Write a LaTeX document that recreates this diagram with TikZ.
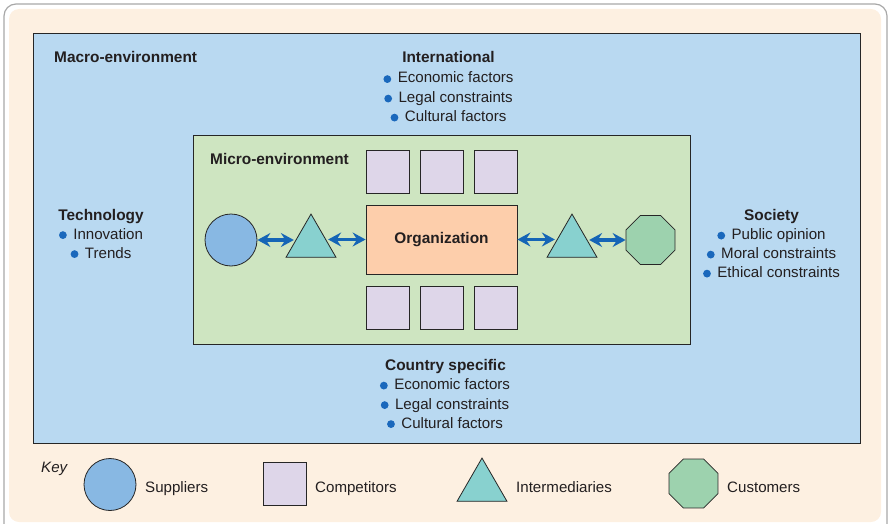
\documentclass[tikz,border=0pt]{standalone}
\usepackage{fontspec}
\setmainfont{Liberation Sans}
\usetikzlibrary{shapes.geometric,arrows.meta}
\definecolor{cream}{HTML}{FDF0E1}
\definecolor{macrobg}{HTML}{B9D9F1}
\definecolor{microbg}{HTML}{CEE5C1}
\definecolor{lavender}{HTML}{DED6E9}
\definecolor{peach}{HTML}{FDCEAB}
\definecolor{suppblue}{HTML}{88B8E3}
\definecolor{teal}{HTML}{88D1CF}
\definecolor{custgreen}{HTML}{9DD2AE}
\definecolor{arrowblue}{HTML}{1565B6}
\definecolor{bulletblue}{HTML}{1A68BC}
\definecolor{txt}{HTML}{231F20}
\definecolor{framegray}{HTML}{A8A8A8}
\newcommand\bul{\tikz[baseline=0pt]\fill[bulletblue] (0pt,3.9pt) circle (3.9pt);\hspace{6.5pt}}
\begin{document}
\begin{tikzpicture}[x=1pt,y=-1pt,
  font=\fontsize{15.1}{19.5}\selectfont, text=txt,
  box/.style={draw=black!85, line width=0.8pt, inner sep=0pt},
  sq/.style={box, fill=lavender, minimum width=43pt, minimum height=43pt},
  supp/.style={box, circle, fill=suppblue, minimum size=52pt},
  interm/.style={box, regular polygon, regular polygon sides=3, fill=teal, minimum size=57.7pt},
  cust/.style={box, regular polygon, regular polygon sides=8, fill=custgreen, minimum size=53pt},
  lbl/.style={anchor=base, inner sep=0pt},
  lblw/.style={anchor=base west, inner sep=0pt},
  bfont/.style={font=\fontsize{15.4}{19.5}\selectfont\bfseries},
  ttl/.style={lbl, bfont},
  arr/.style={{Stealth[length=13pt,width=14pt,inset=4.5pt]}-{Stealth[length=13pt,width=14pt,inset=4.5pt]}, line width=3.2pt, draw=arrowblue}]
\useasboundingbox (0,0) rectangle (888,524);
\begin{scope}
  \clip (0,0) rectangle (888,524);
  \draw[framegray, line width=1.2pt, rounded corners=12pt] (4,4) rectangle (887,545);
  \fill[cream, rounded corners=10pt] (9,9) rectangle (881,522);
\end{scope}
% environments
\node[box, fill=macrobg, minimum width=827pt, minimum height=410pt] (macro) at (446.5,238) {};
\node[box, fill=microbg, minimum width=497pt, minimum height=209pt] (micro) at (441.5,239.5) {};
\node[lblw, bfont] (macrot) at (54,63) {Macro-environment};
\node[lblw, bfont] (microt) at (210,164) {Micro-environment};
% organization and competitors
\node[box, fill=peach, minimum width=151pt, minimum height=69pt, bfont] (org) at (441.5,239.5) {Organization};
\node[sq] (c1) at (387.5,171.5) {};
\node[sq] (c2) at (441.5,171.5) {};
\node[sq] (c3) at (495.5,171.5) {};
\node[sq] (c4) at (387.5,308) {};
\node[sq] (c5) at (441.5,308) {};
\node[sq] (c6) at (495.5,308) {};
% chain
\node[supp] (sup) at (231,240) {};
\node[interm] (tl) at (311,242.9) {};
\node[interm] (tr) at (572,242.9) {};
\node[cust] (cus) at (650.5,240) {};
\draw[arr] (sup.east) -- (sup.east -| tl.west);
\draw[arr] (tl.east |- org.west) -- (org.west);
\draw[arr] (org.east) -- (org.east -| tr.west);
\draw[arr] (tr.east |- cus.west) -- (cus.west);
% International
\node[ttl] (intt) at (448.5,62.5) {International};
\node[lbl] (int1) at (448.5,83) {\bul Economic factors};
\node[lbl] (int2) at (448.5,102.5) {\bul Legal constraints};
\node[lbl] (int3) at (448.5,121.5) {\bul Cultural factors};
% Country specific
\node[ttl] (cst) at (445.5,370) {Country specific};
\node[lbl] (cs1) at (445,389.5) {\bul Economic factors};
\node[lbl] (cs2) at (445,409) {\bul Legal constraints};
\node[lbl] (cs3) at (445,428) {\bul Cultural factors};
% Technology
\node[ttl] (tect) at (101,220) {Technology};
\node[lbl] (tec1) at (101,239) {\bul Innovation};
\node[lbl] (tec2) at (101,258) {\bul Trends};
% Society
\node[ttl] (soct) at (771.5,220.5) {Society};
\node[lbl] (soc1) at (771.5,239.5) {\bul Public opinion};
\node[lbl] (soc2) at (771.5,258.5) {\bul Moral constraints};
\node[lbl] (soc3) at (771.5,277.5) {\bul Ethical constraints};
% Key
\node[lblw, font=\fontsize{15.1}{19.5}\selectfont\itshape] (keyt) at (41,472) {Key};
\node[supp] (ksup) at (110,484.5) {};
\node[lblw] (ksupt) at (145,492) {Suppliers};
\node[sq] (kcomp) at (285,484) {};
\node[lblw] (kcompt) at (315,492) {Competitors};
\node[interm] (kint) at (482,486.9) {};
\node[lblw] (kintt) at (516,492) {Intermediaries};
\node[cust] (kcus) at (693.5,483.5) {};
\node[lblw] (kcust) at (727,492) {Customers};
\end{tikzpicture}
\end{document}
